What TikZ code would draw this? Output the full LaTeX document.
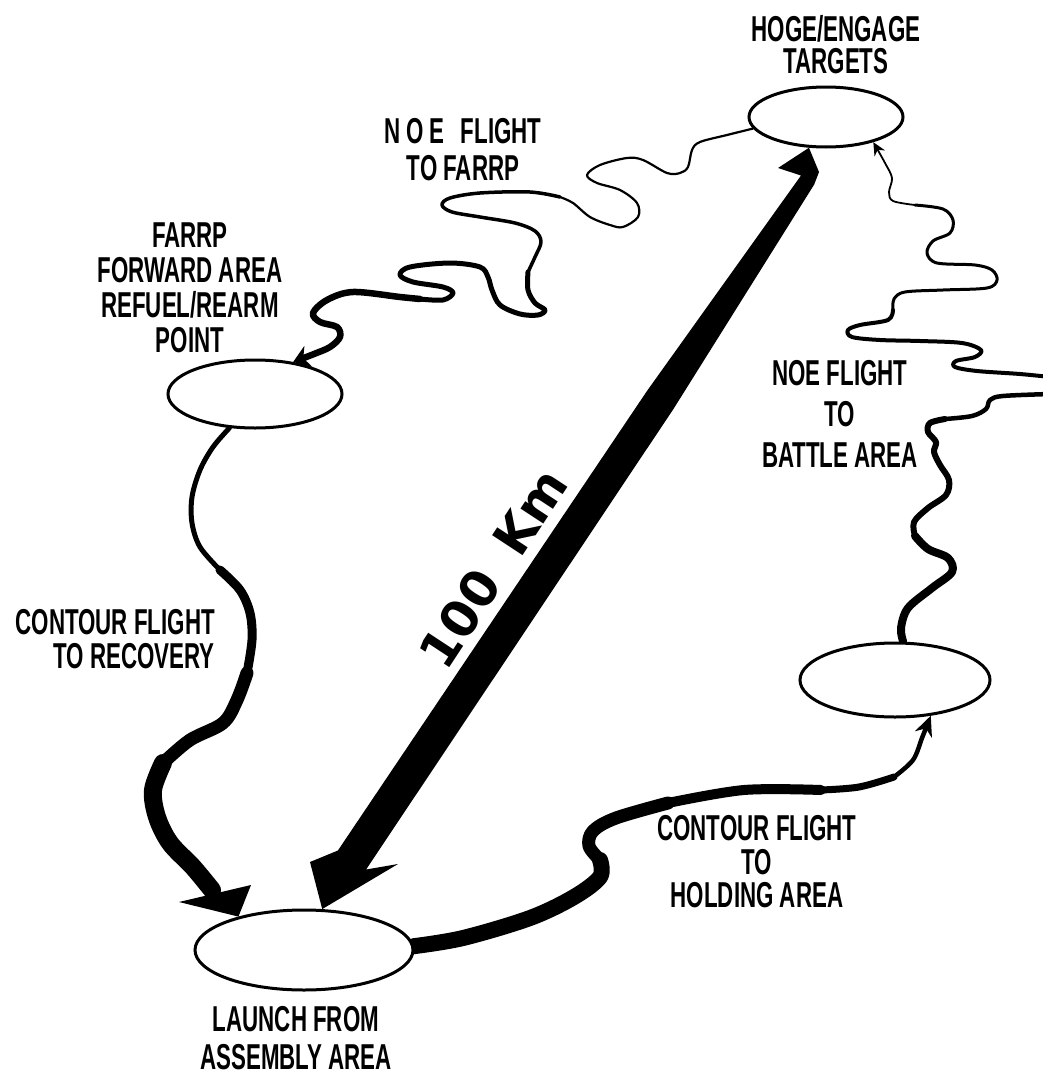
\documentclass[tikz,border=0pt]{standalone}
\usepackage{fontspec}
\newfontfamily\lblfont[FakeStretch=0.62]{Liberation Sans Bold}
\newfontfamily\kmfont{DejaVu Sans}
\usetikzlibrary{arrows.meta,shapes.geometric,backgrounds}
\begin{document}
\begin{tikzpicture}[x=1pt,y=-1pt,
  area/.style={ellipse,draw,line width=3pt,inner sep=0pt,fill=white},
  lbl/.style={font=\lblfont\fontsize{36}{#1}\selectfont,align=center,inner sep=0pt},
  rt/.style={line cap=round,line join=round,line width=#1}]
\useasboundingbox (0,0) rectangle (1042,1076);
% areas
\node[area,minimum width=154pt,minimum height=60pt] (hoge) at (826,117) {};
\node[area,minimum width=174pt,minimum height=68pt] (farrp) at (255,394) {};
\node[area,minimum width=190pt,minimum height=74pt] (hold) at (895,680) {};
\node[area,minimum width=218pt,minimum height=80pt] (launch) at (304,950) {};
% labels
\node[lbl=32.5] (thoge) at (836,44.5) {HOGE/ENGAGE\\TARGETS};
\node[lbl=37] (tnoe1) at (463,150) {N\,O\,E\hspace{16pt}FLIGHT\\TO\,FARRP};
\node[lbl=35] (tfarrp) at (190,287.5) {FARRP\\FORWARD AREA\\REFUEL/REARM\\POINT};
\node[lbl=34,align=right,anchor=east] (trec) at (215,639) {CONTOUR FLIGHT\\TO RECOVERY};
\node[lbl=38] (tlaunch) at (296,1038) {LAUNCH FROM\\ASSEMBLY AREA};
\node[lbl=33.5] (thold) at (757,862) {CONTOUR FLIGHT\\TO\\HOLDING AREA};
\node[lbl=41] (tnoe2) at (840,414) {NOE FLIGHT\\TO\\BATTLE AREA};
\node[font=\kmfont\bfseries\fontsize{50}{50}\selectfont,rotate=56.7,inner sep=0pt] (tkm) at (493,568) {100\hspace{30pt}Km};
% 100 km double arrow
\fill (launch.66) -- (310,862) -- (337.9,850.5) -- (646.9,391.1) -- (801,175.5) -- (778,168) -- (hoge.241)
  -- (819,172) -- (814.2,184.5) -- (673.5,408.9) -- (366.1,869.5) -- (398,864) -- cycle;
\begin{scope}[on background layer]
% NOE flight to FARRP
\draw[rt=2.2pt] plot[smooth,tension=.55] coordinates {(hoge.189) (727,135) (700,142) (692,150) (688,167) (680,173) (667,173) (643,160) (627,158) (600,165) (587,175) (597,183) (620,190) (637,203) (638,217) (623,227) (610,225) (590,217) (573,203) (560,197)};
\draw[rt=3.5pt] plot[smooth,tension=.55] coordinates {(560,197) (530,192) (480,193) (450,198) (442,205) (452,212) (480,217) (515,223) (535,231) (541,242) (535,257) (528,272)};
\draw[rt=5pt] plot[smooth,tension=.55] coordinates {(528,272) (528,290) (535,303) (545,310) (538,315) (520,314) (500,305) (492,290) (488,277) (480,267) (450,263) (410,267) (400,275) (413,282) (443,287) (453,293) (443,300) (420,299)};
\draw[rt=6.5pt,-{Stealth[length=16pt,width=22pt]}] plot[smooth,tension=.55] coordinates {(420,299) (400,297) (353,292) (327,300) (313,313) (320,322) (337,327) (340,337) (330,347) (314,354) (farrp.40)};
% NOE flight to battle area
\draw[rt=8pt] plot[smooth,tension=.55] coordinates {(hold.78) (901,628) (908,608) (932,588) (952,572) (948,558) (928,549) (915,536)};
\draw[rt=6pt] plot[smooth,tension=.55] coordinates {(915,536) (914,522) (928,508) (946,495) (949,480) (940,465) (934,452) (936,442) (928,432) (930,423) (945,419)};
\draw[rt=4.5pt] plot[smooth,tension=.55] coordinates {(945,419) (972,416) (986,409) (990,400) (1003,396) (1050,394)};
\draw[rt=4pt] plot[smooth,tension=.55] coordinates {(1050,377) (1020,374) (977,371) (955,367) (956,361) (975,357) (981,350) (962,343) (920,341) (880,340) (852,337) (848,330) (860,325) (888,320) (893,310)};
\draw[rt=3pt] plot[smooth,tension=.55] coordinates {(893,310) (894,299) (905,292) (943,290) (987,288) (997,280) (992,270) (975,265) (937,263) (927,253) (933,241) (950,233) (953,220) (943,209) (915,205)};
\draw[rt=1.8pt,-{Stealth[length=13pt,width=12pt]}] plot[smooth,tension=.55] coordinates {(915,205) (893,201) (889,192) (892,178) (885,163) (hoge.332)};
% contour flight to recovery
\draw[rt=5pt] plot[smooth,tension=.55] coordinates {(farrp.233) (213,447) (200,470) (192,497) (192,523) (200,547) (220,570)};
\draw[rt=9pt] plot[smooth,tension=.55] coordinates {(220,570) (240,590) (250,613) (252,640) (247,673)};
\draw[rt=13pt] plot[smooth,tension=.55] coordinates {(247,673) (237,700) (223,723) (190,740) (163,763)};
\draw[rt=18pt] plot[smooth,tension=.55] coordinates {(163,763) (153,790) (157,817) (170,843) (193,867) (212,890)};
\fill (179,902) -- (launch.153) -- (251,885) -- cycle;
% contour flight to holding area
\draw[rt=16pt] plot[smooth,tension=.55] coordinates {(launch.2) (463,938) (530,918) (574,897) (600,877) (600,860)};
\draw[rt=13pt] plot[smooth,tension=.55] coordinates {(600,860) (589,846) (593,831) (616,818) (668,803)};
\draw[rt=10pt] plot[smooth,tension=.55] coordinates {(668,803) (744,790) (821,790)};
\draw[rt=7pt] plot[smooth,tension=.55] coordinates {(821,790) (859,787) (894,777)};
\draw[rt=4.5pt,-{Stealth[length=20pt,width=18pt]}] plot[smooth,tension=.55] coordinates {(894,777) (913,760) (922,738) (hold.315)};
\end{scope}
\end{tikzpicture}
\end{document}
